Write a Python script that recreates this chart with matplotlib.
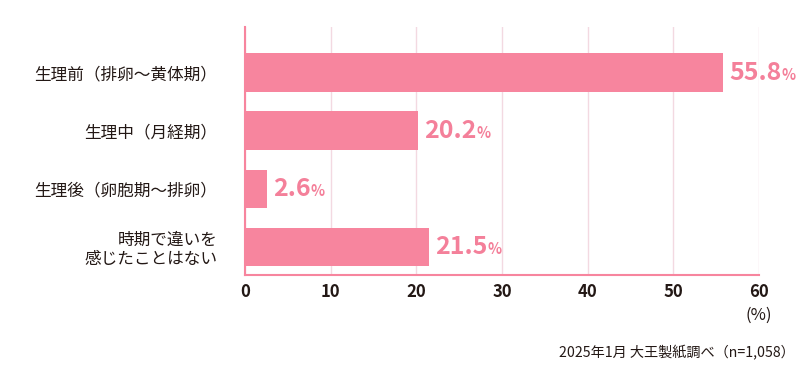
import matplotlib
matplotlib.use("Agg")
import matplotlib.pyplot as plt
from matplotlib.offsetbox import TextArea, HPacker, AnnotationBbox

plt.rcParams['font.family'] = ['Noto Sans CJK JP', 'DejaVu Sans']

categories = ['生理前（排卵〜黄体期）', '生理中（月経期）', '生理後（卵胞期〜排卵）', '時期で違いを\n感じたことはない']
values = [55.8, 20.2, 2.6, 21.5]
xticks = [0, 10, 20, 30, 40, 50, 60]

bar_color = '#F7859E'
text_color = '#F4809A'
dark = '#231815'
grid_color = '#F3D9E1'

fig = plt.figure(figsize=(8, 3.75), dpi=100)
ax = fig.add_axes([0.306, 0.267, 0.643, 0.661])

ypos = list(range(len(categories)))
ax.barh(ypos, values, height=0.67, color=bar_color, zorder=3)

ax.set_xlim(0, 60)
ax.set_ylim(3.48, -0.79)

ax.set_xticks(xticks)
ax.set_xticklabels([str(t) for t in xticks], fontsize=12, fontweight='bold', color=dark)
ax.set_yticks(ypos)
ax.set_yticklabels(categories, fontsize=12, color=dark, linespacing=1.15)
ax.tick_params(axis='both', length=0)
ax.tick_params(axis='x', pad=6)
ax.tick_params(axis='y', pad=20)

ax.grid(axis='x', color=grid_color, linewidth=1, zorder=0)
for side in ['top', 'right']:
    ax.spines[side].set_visible(False)
ax.spines['left'].set_color(bar_color)
ax.spines['bottom'].set_color(bar_color)
ax.spines['left'].set_linewidth(1.5)
ax.spines['bottom'].set_linewidth(1.5)
ax.spines['left'].set_zorder(4)
ax.spines['bottom'].set_zorder(4)

# 値ラベル（数字＋小さい%）
for y, v in zip(ypos, values):
    num = TextArea(f'{v:.1f}', textprops=dict(fontsize=18, fontweight='bold', color=text_color))
    pct = TextArea('%', textprops=dict(fontsize=10.5, fontweight='bold', color=text_color))
    box = HPacker(children=[num, pct], align='baseline', pad=0, sep=0)
    ab = AnnotationBbox(box, (v, y), xybox=(4.5, 0), xycoords='data',
                        boxcoords='offset points', box_alignment=(0, 0.5),
                        frameon=False, pad=0)
    ax.add_artist(ab)

fig.text(0.949, 0.16, '(%)', ha='center', va='center', fontsize=12, color=dark)
fig.text(0.994, 0.058, '2025年1月 大王製紙調べ（n=1,058）', ha='right', va='center',
         fontsize=10.2, color=dark)

fig.savefig('out.png', dpi=100)
